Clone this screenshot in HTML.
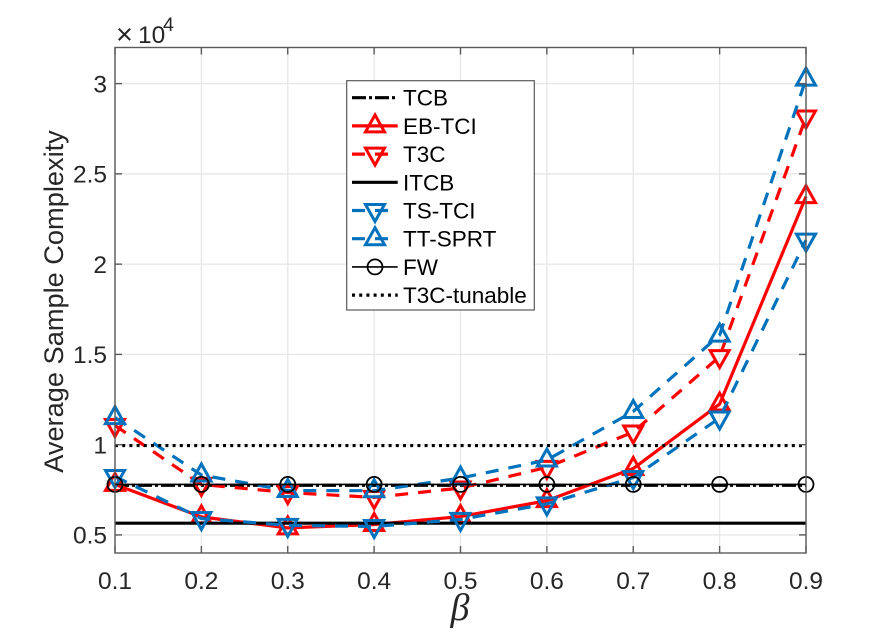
<!DOCTYPE html>
<html lang="en">
<head>
<meta charset="utf-8">
<title>Average Sample Complexity vs beta</title>
<style>
  html, body { margin: 0; padding: 0; background: #fff; }
  #chart { display: block; width: 891px; height: 635px; }
  text { font-family: "Liberation Sans", sans-serif; }
</style>
</head>
<body>
<svg id="chart" xmlns="http://www.w3.org/2000/svg" width="891" height="635" viewBox="0 0 891 635"></svg>
<script>
const categories = [0.1, 0.2, 0.3, 0.4, 0.5, 0.6, 0.7, 0.8, 0.9];
const xTickLabels = ['0.1', '0.2', '0.3', '0.4', '0.5', '0.6', '0.7', '0.8', '0.9'];
const yTicks = [0.5, 1, 1.5, 2, 2.5, 3];
const yTickLabels = ['0.5', '1', '1.5', '2', '2.5', '3'];
const legendLabels = ['TCB', 'EB-TCI', 'T3C', 'ITCB', 'TS-TCI', 'TT-SPRT', 'FW', 'T3C-tunable'];

const tcbValues = [0.775, 0.775, 0.775, 0.775, 0.775, 0.775, 0.775, 0.775, 0.775];
const ebTciValues = [0.78, 0.60, 0.539, 0.558, 0.602, 0.69, 0.868, 1.225, 2.374];
const t3cValues = [1.106, 0.78, 0.735, 0.708, 0.76, 0.874, 1.07, 1.488, 2.815];
const itcbValues = [0.565, 0.565, 0.565, 0.565, 0.565, 0.565, 0.565, 0.565, 0.565];
const tsTciValues = [0.824, 0.591, 0.553, 0.547, 0.586, 0.672, 0.818, 1.148, 2.133];
const ttSprtValues = [1.15, 0.832, 0.746, 0.745, 0.815, 0.915, 1.184, 1.607, 3.025];
const fwValues = [0.78, 0.78, 0.78, 0.78, 0.78, 0.78, 0.78, 0.78, 0.78];
const t3cTunableValues = [0.995, 0.995, 0.995, 0.995, 0.995, 0.995, 0.995, 0.995, 0.995];

const NS = 'http://www.w3.org/2000/svg';
const svg = document.getElementById('chart');
const plot = { left: 115, right: 806, top: 47.5, bottom: 553 };
const xMin = 0.1, xMax = 0.9, yMin = 0.4, yMax = 3.2;
const RED = '#ff0000', BLUE = '#0072bd', BLACK = '#000000';

function xScale(v) { return plot.left + (v - xMin) / (xMax - xMin) * (plot.right - plot.left); }
function yScale(v) { return plot.bottom - (v - yMin) / (yMax - yMin) * (plot.bottom - plot.top); }

function mk(tag, attrs, parent) {
  const el = document.createElementNS(NS, tag);
  for (const k in attrs) el.setAttribute(k, attrs[k]);
  (parent || svg).appendChild(el);
  return el;
}

function drawMarker(parent, kind, cx, cy, color, strokeWidth) {
  if (kind === 'up') {
    return mk('polygon', { points: (cx) + ',' + (cy - 11) + ' ' + (cx + 9.5) + ',' + (cy + 6) + ' ' + (cx - 9.5) + ',' + (cy + 6), fill: 'none', stroke: color, 'stroke-width': strokeWidth }, parent);
  }
  if (kind === 'down') {
    return mk('polygon', { points: (cx) + ',' + (cy + 11) + ' ' + (cx + 9.5) + ',' + (cy - 6) + ' ' + (cx - 9.5) + ',' + (cy - 6), fill: 'none', stroke: color, 'stroke-width': strokeWidth }, parent);
  }
  return mk('circle', { cx: cx, cy: cy, r: 7.5, fill: 'none', stroke: color, 'stroke-width': strokeWidth }, parent);
}

/* grid */
const gridGroup = mk('g', {});


categories.forEach(function (c) {
  const line = mk('line', { x1: xScale(c), x2: xScale(c), y1: plot.top, y2: plot.bottom, stroke: '#e8e8e8', 'stroke-width': 1.4 }, gridGroup);
  
  
});
yTicks.forEach(function (t) {
  const line = mk('line', { x1: plot.left, x2: plot.right, y1: yScale(t), y2: yScale(t), stroke: '#e8e8e8', 'stroke-width': 1.4 }, gridGroup);
  
  
});

/* series */
function drawSeries(name, values, color, width, dash, marker, markerWidth) {
  const g = mk('g', {});
  
  
  const pts = values.map(function (v, i) { return xScale(categories[i]) + ',' + yScale(v); }).join(' ');
  const attrs = { points: pts, fill: 'none', stroke: color, 'stroke-width': width, 'stroke-linejoin': 'round' };
  if (dash) attrs['stroke-dasharray'] = dash;
  const line = mk('polyline', attrs, g);
  
  
  if (marker) {
    values.forEach(function (v, i) {
      const m = drawMarker(g, marker, xScale(categories[i]), yScale(v), color, markerWidth);
      
      
    });
  }
}
const DASH = '13 10';
drawSeries('tcb', tcbValues, BLACK, 3.2, '14 3 3 3', null, 0);
drawSeries('eb-tci', ebTciValues, RED, 3.2, null, 'up', 3);
drawSeries('t3c', t3cValues, RED, 3.2, DASH, 'down', 3);
drawSeries('itcb', itcbValues, BLACK, 3.2, null, null, 0);
drawSeries('ts-tci', tsTciValues, BLUE, 3.2, DASH, 'down', 3);
drawSeries('tt-sprt', ttSprtValues, BLUE, 3.2, DASH, 'up', 3);
drawSeries('fw', fwValues, BLACK, 1.6, null, 'circle', 1.8);
drawSeries('t3c-tunable', t3cTunableValues, BLACK, 3.2, '3 4.2', null, 0);

/* axes box and ticks */
const axisGroup = mk('g', {});


const frame = mk('rect', { x: plot.left, y: plot.top, width: plot.right - plot.left, height: plot.bottom - plot.top, fill: 'none', stroke: '#5a5a5a', 'stroke-width': 1.4 }, axisGroup);



categories.forEach(function (c, i) {
  const x = xScale(c);
  const t1 = mk('line', { x1: x, x2: x, y1: plot.bottom, y2: plot.bottom - 7, stroke: '#5a5a5a', 'stroke-width': 1.4 }, axisGroup);
  
  
  const t2 = mk('line', { x1: x, x2: x, y1: plot.top, y2: plot.top + 7, stroke: '#5a5a5a', 'stroke-width': 1.4 }, axisGroup);
  
  
  const lab = mk('text', { x: x, y: 589, 'text-anchor': 'middle', 'font-size': 24.5, fill: '#262626' }, axisGroup);
  
  
  lab.textContent = xTickLabels[i];
});
yTicks.forEach(function (t, i) {
  const y = yScale(t);
  const t1 = mk('line', { x1: plot.left, x2: plot.left + 7, y1: y, y2: y, stroke: '#5a5a5a', 'stroke-width': 1.4 }, axisGroup);
  
  
  const t2 = mk('line', { x1: plot.right, x2: plot.right - 7, y1: y, y2: y, stroke: '#5a5a5a', 'stroke-width': 1.4 }, axisGroup);
  
  
  const lab = mk('text', { x: 107, y: y + 8.7, 'text-anchor': 'end', 'font-size': 24.5, fill: '#262626' }, axisGroup);
  
  
  lab.textContent = yTickLabels[i];
});

/* exponent */
const expTimes = mk('text', { x: 116, y: 44, 'font-size': 29, fill: '#262626' });


expTimes.textContent = '×';
const expText = mk('text', { x: 138, y: 43, 'font-size': 24.5, fill: '#262626' });


expText.textContent = '10';
const expSup = mk('text', { x: 163, y: 31, 'font-size': 19.5, fill: '#262626' });


expSup.textContent = '4';

/* axis titles */
const yTitle = mk('text', { transform: 'translate(63,301.5) rotate(-90)', 'text-anchor': 'middle', 'font-size': 27.2, fill: '#262626' });


yTitle.textContent = 'Average Sample Complexity';
const xTitle = mk('text', { x: 460, y: 620, 'text-anchor': 'middle', 'font-size': 38, 'font-style': 'italic', fill: '#262626', style: 'font-family:"Liberation Serif",serif' });


xTitle.textContent = 'β';

/* legend */
const legend = mk('g', {});


const legendBox = mk('rect', { x: 346.7, y: 80.7, width: 187.6, height: 229.3, fill: '#ffffff', stroke: '#5a5a5a', 'stroke-width': 1.2 }, legend);


const legendStyles = [
  { color: BLACK, width: 3.2, dash: '14 3 3 3', marker: null },
  { color: RED, width: 3.2, dash: null, marker: 'up' },
  { color: RED, width: 3.2, dash: DASH, marker: 'down' },
  { color: BLACK, width: 3.2, dash: null, marker: null },
  { color: BLUE, width: 3.2, dash: DASH, marker: 'down' },
  { color: BLUE, width: 3.2, dash: DASH, marker: 'up' },
  { color: BLACK, width: 1.6, dash: null, marker: 'circle' },
  { color: BLACK, width: 3.2, dash: '3 4.2', marker: null }
];
const legendRowTop = 97.7, legendRowStep = 28.2;
legendLabels.forEach(function (label, i) {
  const y = legendRowTop + i * legendRowStep;
  const s = legendStyles[i];
  const row = mk('g', {}, legend);
  
  
  const a = { x1: 352, x2: 397.7, y1: y, y2: y, stroke: s.color, 'stroke-width': s.width };
  if (s.dash) a['stroke-dasharray'] = s.dash;
  const sample = mk('line', a, row);
  
  
  if (s.marker) {
    const m = drawMarker(row, s.marker, 375, y, s.color, s.marker === 'circle' ? 1.8 : 3);
    
    
  }
  const t = mk('text', { x: 403, y: y + 8, 'font-size': 22.5, fill: '#000000' }, row);
  
  
  t.textContent = label;
});
</script>
</body>
</html>
